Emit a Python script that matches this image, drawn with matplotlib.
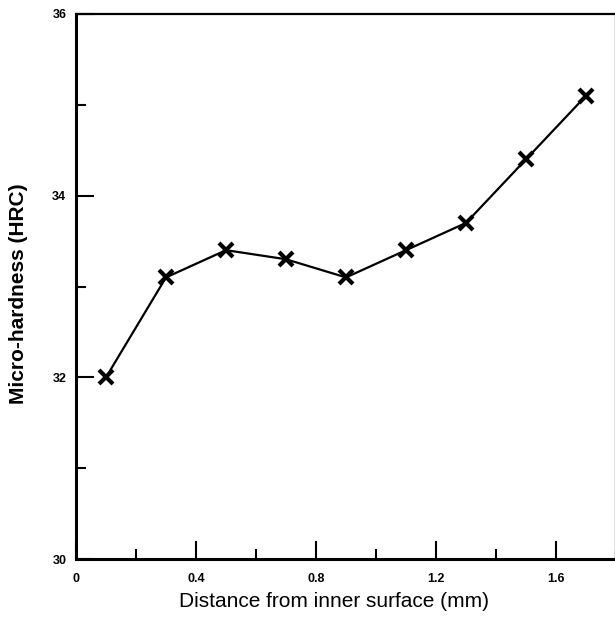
import matplotlib
matplotlib.use('Agg')
import matplotlib.pyplot as plt
from matplotlib.ticker import MultipleLocator

# Данные
distance = [0.1, 0.3, 0.5, 0.7, 0.9, 1.1, 1.3, 1.5, 1.7]
hardness = [32.0, 33.1, 33.4, 33.3, 33.1, 33.4, 33.7, 34.4, 35.1]
x_ticks = [0, 0.4, 0.8, 1.2, 1.6]
x_tick_labels = ['0', '0.4', '0.8', '1.2', '1.6']
y_ticks = [30, 32, 34, 36]

plt.rcParams['font.family'] = ['Liberation Sans', 'DejaVu Sans']

fig = plt.figure(figsize=(6.15, 6.18), dpi=100)
ax = fig.add_axes([76 / 615, 1 - 559 / 618, 540 / 615, 545 / 618])

# Линия с маркерами-крестиками
ax.plot(distance, hardness, color='black', linewidth=1.6,
        marker='x', markersize=10, markeredgewidth=3)

ax.set_xlim(0, 1.8)
ax.set_ylim(30, 36)
ax.set_xticks(x_ticks)
ax.set_xticklabels(x_tick_labels)
ax.set_yticks(y_ticks)
ax.xaxis.set_minor_locator(MultipleLocator(0.2))
ax.yaxis.set_minor_locator(MultipleLocator(1))

ax.tick_params(which='both', direction='in', width=1.5, labelsize=9)
ax.tick_params(which='major', length=13)
ax.tick_params(which='minor', length=7)
ax.tick_params(axis='x', which='major', pad=10)
ax.tick_params(axis='y', which='major', pad=7)
for lab in ax.get_xticklabels() + ax.get_yticklabels():
    lab.set_fontweight('bold')

for side in ['left', 'bottom']:
    ax.spines[side].set_linewidth(2.2)
ax.spines['top'].set_linewidth(1.6)
ax.spines['right'].set_linewidth(1.6)

ax.set_xlabel('Distance from inner surface (mm)', fontsize=15)
ax.set_ylabel('Micro-hardness (HRC)', fontsize=15, fontweight='bold')
ax.xaxis.set_label_coords(0.477, -0.06)
ax.yaxis.set_label_coords(-0.088, 0.486)

plt.savefig('out.png', dpi=100)
